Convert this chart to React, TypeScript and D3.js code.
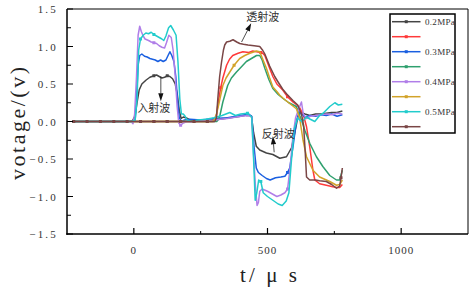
import React from "react";
import * as d3 from "d3";

const W = 472;
const H = 289;

const seriesNames = ["0.2MPa", "", "0.3MPa", "", "0.4MPa", "", "0.5MPa", ""];
const seriesColors = ["#444444", "#ff3a3a", "#1a5fe0", "#2fa06e", "#b07ee8", "#d2a32a", "#22cccc", "#7a4646"];

const base = [-225, -175, -125, -75, -25];

const s02: [number, number][] = [
  [-230, 0], ...base.map((x) => [x, 0] as [number, number]),
  [-5, 0.01], [5, 0.08], [12, 0.25], [20, 0.42], [30, 0.5], [45, 0.55], [60, 0.59], [75, 0.61], [85, 0.62],
  [95, 0.6], [105, 0.58], [115, 0.59], [125, 0.61], [135, 0.6], [145, 0.57], [155, 0.5], [163, 0.35],
  [170, 0.15], [177, 0.04], [185, 0.06], [195, 0.05], [210, 0.02], [240, 0.01], [280, 0.02], [320, 0.03],
  [360, 0.05], [400, 0.07], [425, 0.09], [440, 0.07], [448, -0.15], [458, -0.33], [471, -0.38], [496, -0.42],
  [520, -0.44], [546, -0.49], [571, -0.47], [590, -0.35], [602, -0.15], [614, 0.07], [625, 0.12], [640, 0.1],
  [658, 0.08], [680, 0.1], [700, 0.1], [720, 0.11], [740, 0.12], [760, 0.12], [780, 0.14],
];

const t02: [number, number][] = [
  [-230, 0], ...base.map((x) => [x, 0] as [number, number]),
  [25, 0], [75, 0], [125, 0], [175, 0], [225, 0], [275, 0], [300, 0],
  [307, 0.02], [314, 0.22], [325, 0.45], [333, 0.58], [347, 0.75], [358, 0.83], [370, 0.88], [390, 0.91],
  [408, 0.93], [430, 0.92], [445, 0.94], [459, 0.93], [475, 0.92], [482, 0.91], [490, 0.88], [508, 0.71],
  [520, 0.6], [535, 0.5], [557, 0.42], [575, 0.33], [595, 0.26], [610, 0.22], [621, 0.18], [635, 0.08],
  [646, -0.07], [658, -0.34], [670, -0.65], [677, -0.78], [695, -0.83], [720, -0.85], [744, -0.87],
  [760, -0.88], [770, -0.88], [780, -0.84],
];

const s03: [number, number][] = [
  [-230, 0], ...base.map((x) => [x, 0] as [number, number]),
  [-5, 0], [5, 0.02], [10, 0.3], [16, 0.75], [22, 0.88], [30, 0.9], [40, 0.87], [50, 0.86], [60, 0.84],
  [70, 0.83], [80, 0.82], [90, 0.8], [100, 0.82], [110, 0.8], [120, 0.82], [128, 0.88], [135, 0.93],
  [142, 0.88], [150, 0.8], [157, 0.6], [163, 0.3], [170, 0.05], [178, 0.0], [190, 0.02], [210, 0.03],
  [250, 0.02], [300, 0.04], [350, 0.05], [400, 0.08], [430, 0.1], [441, 0.07], [450, -0.35], [458, -0.62],
  [466, -0.68], [480, -0.72], [496, -0.76], [510, -0.78], [530, -0.75], [550, -0.74], [565, -0.73],
  [575, -0.68], [583, -0.62], [595, -0.35], [608, 0.0], [618, 0.12], [628, 0.1], [640, 0.06], [660, 0.08],
  [680, 0.07], [700, 0.09], [720, 0.08], [740, 0.1], [760, 0.07], [780, 0.09],
];

const t03: [number, number][] = [
  [-230, 0], ...base.map((x) => [x, 0] as [number, number]),
  [25, 0], [75, 0], [125, 0], [175, 0], [225, 0], [275, 0], [310, 0],
  [315, 0.02], [322, 0.08], [333, 0.26], [351, 0.48], [365, 0.58], [384, 0.66], [400, 0.72], [421, 0.8],
  [440, 0.84], [459, 0.88], [471, 0.88], [480, 0.82], [490, 0.71], [505, 0.56], [520, 0.44], [540, 0.36],
  [557, 0.31], [580, 0.25], [608, 0.2], [618, 0.1], [627, 0.02], [640, -0.12], [658, -0.29], [683, -0.47],
  [707, -0.6], [733, -0.72], [758, -0.78], [770, -0.78], [780, -0.65],
];

const s04: [number, number][] = [
  [-230, 0], ...base.map((x) => [x, 0] as [number, number]),
  [-10, 0], [-3, -0.03], [3, 0.1], [10, 0.6], [16, 1.15], [22, 1.27], [28, 1.2], [35, 1.14], [42, 1.1],
  [55, 1.08], [65, 1.06], [75, 1.05], [85, 1.04], [95, 1.01], [105, 0.99], [115, 0.98], [122, 1.05],
  [131, 1.15], [140, 1.12], [147, 0.95], [155, 0.6], [162, 0.2], [168, -0.02], [175, -0.05], [185, -0.02],
  [200, 0.0], [220, -0.01], [250, 0.01], [300, 0.02], [350, 0.04], [400, 0.07], [430, 0.08], [441, 0.06],
  [448, -0.45], [455, -0.87], [461, -1.12], [466, -1.08], [471, -0.93], [480, -0.9], [500, -0.93],
  [520, -0.97], [535, -1.0], [550, -0.98], [565, -0.95], [575, -0.9], [585, -0.6], [595, -0.2], [605, 0.05],
  [615, 0.15], [627, 0.26], [634, 0.1], [646, 0.04], [660, 0.07], [680, 0.08], [700, 0.09], [720, 0.1],
  [740, 0.09], [760, 0.11], [780, 0.1],
];

const t04: [number, number][] = [
  [-230, 0], ...base.map((x) => [x, 0] as [number, number]),
  [25, 0], [75, 0], [125, 0], [175, 0], [225, 0], [275, 0], [295, 0],
  [302, 0.03], [309, 0.1], [316, 0.2], [322, 0.3], [333, 0.48], [345, 0.58], [359, 0.66], [375, 0.75],
  [396, 0.84], [415, 0.88], [434, 0.91], [459, 0.94], [471, 0.93], [480, 0.85], [496, 0.71], [508, 0.58],
  [520, 0.46], [535, 0.4], [546, 0.35], [565, 0.29], [583, 0.24], [608, 0.17], [620, 0.05], [633, -0.25],
  [646, -0.47], [670, -0.65], [695, -0.74], [733, -0.8], [758, -0.85], [770, -0.84], [780, -0.78],
];

const s05: [number, number][] = [
  [-230, 0], ...base.map((x) => [x, 0] as [number, number]),
  [-5, 0], [5, 0.02], [12, 0.3], [18, 0.95], [25, 1.1], [35, 1.15], [45, 1.18], [55, 1.17], [65, 1.19],
  [75, 1.16], [85, 1.14], [95, 1.12], [105, 1.1], [112, 1.08], [120, 1.14], [130, 1.25], [138, 1.28],
  [148, 1.22], [158, 1.15], [165, 0.8], [172, 0.3], [178, 0.1], [185, 0.1], [192, 0.07], [200, 0.02],
  [215, 0.0], [240, 0.02], [270, 0.03], [300, 0.05], [330, 0.08], [359, 0.12], [380, 0.08], [400, 0.1],
  [425, 0.11], [441, 0.06], [448, -0.5], [454, -1.05], [460, -0.95], [467, -0.78], [475, -0.8], [484, -0.95],
  [500, -1.0], [520, -1.05], [540, -1.1], [555, -1.12], [570, -1.06], [580, -0.95], [590, -0.5], [600, -0.1],
  [613, 0.05], [620, 0.02], [630, 0.0], [646, 0.06], [660, 0.03], [677, 0.0], [695, 0.08], [708, 0.11],
  [733, 0.2], [752, 0.25], [765, 0.22], [780, 0.23],
];

const t05: [number, number][] = [
  [-230, 0], ...base.map((x) => [x, 0] as [number, number]),
  [25, 0], [75, 0], [125, 0], [175, 0], [225, 0], [275, 0], [303, 0],
  [309, 0.05], [314, 0.3], [321, 0.6], [328, 0.79], [335, 0.95], [340, 1.02], [347, 1.06], [359, 1.07],
  [371, 1.09], [385, 1.06], [396, 1.04], [410, 1.03], [427, 1.02], [450, 1.01], [471, 1.0], [482, 0.95],
  [490, 0.9], [508, 0.74], [527, 0.6], [539, 0.53], [557, 0.43], [571, 0.37], [595, 0.28], [613, 0.22],
  [627, 0.1], [635, -0.05], [641, -0.4], [646, -0.74], [658, -0.78], [680, -0.78], [695, -0.79], [720, -0.8],
  [740, -0.84], [758, -0.89], [770, -0.86], [775, -0.75], [780, -0.62],
];

const seriesData = [s02, t02, s03, t03, s04, t04, s05, t05];

const yTicks = [-1.5, -1.0, -0.5, 0, 0.5, 1.0, 1.5];
const yMinor = [-1.25, -0.75, -0.25, 0.25, 0.75, 1.25];
const xTicks = [0, 500, 1000];
const xMinor = [250, 750];

const annotations = [
  { text: "入射波", tx: 75, ty: 0.125, ax1: 101, ay1: 0.6, ax2: 101, ay2: 0.27 },
  { text: "透射波", tx: 482, ty: 1.337, ax1: 403, ay1: 1.06, ax2: 439, ay2: 1.31 },
  { text: "反射波", tx: 540, ty: -0.223, ax1: 525, ay1: -0.41, ax2: 520, ay2: -0.196 },
];

const xLabel = "t/ μ s";
const yLabel = "votage/(v)";

const SERIF = "Liberation Serif, DejaVu Serif, serif";
const CJK = "Noto Sans CJK SC, sans-serif";

function Arrow({ x1, y1, x2, y2 }: { x1: number; y1: number; x2: number; y2: number }) {
  const ang = Math.atan2(y2 - y1, x2 - x1);
  const L = 8;
  const Wd = 2.6;
  const bx = x2 - L * Math.cos(ang);
  const by = y2 - L * Math.sin(ang);
  const px = -Math.sin(ang) * Wd;
  const py = Math.cos(ang) * Wd;
  return (
    <g>
      <line x1={x1} y1={y1} x2={bx} y2={by} stroke="#222" strokeWidth={0.8} />
      <polygon points={`${x2},${y2} ${bx + px},${by + py} ${bx - px},${by - py}`} fill="#111" />
    </g>
  );
}

export default function App() {
  const left = 67, right = 468, top = 9, bottom = 234;
  const x = d3.scaleLinear().domain([-250, 1250]).range([left, right]);
  const y = d3.scaleLinear().domain([-1.5, 1.5]).range([bottom, top]);
  const line = d3
    .line<[number, number]>()
    .x((d) => x(d[0]))
    .y((d) => y(d[1]))
    .curve(d3.curveLinear);
  const fmt = (v: number) => d3.format(".1f")(v).replace("-", "−");

  return (
    <svg width={W} height={H} style={{ position: "absolute", left: 0, top: 0, background: "#fff" }}>
      <defs>
        <clipPath id="plotclip">
          <rect x={left} y={top} width={right - left} height={bottom - top} />
        </clipPath>
        <clipPath id="legclip">
          <rect x={390} y={14} width={65} height={119} />
        </clipPath>
      </defs>
      <rect x={0} y={0} width={W} height={H} fill="#fff" />

      <g clipPath="url(#plotclip)">
        {seriesData.map((d, i) => (
          <g key={i}>
            <path d={line(d) || ""} fill="none" stroke={seriesColors[i]} strokeWidth={1.5} strokeLinejoin="round" />
            {d
              .filter((p) => (p[0] + 25) % 50 === 0)
              .map((p, j) => (
                <rect key={j} x={x(p[0]) - 1.5} y={y(p[1]) - 1.5} width={3} height={3} fill={seriesColors[i]} />
              ))}
          </g>
        ))}
      </g>

      <line x1={left} y1={top} x2={right} y2={top} stroke="#000" strokeWidth={1} />
      <line x1={right} y1={top} x2={right} y2={bottom} stroke="#000" strokeWidth={1} />
      <line x1={left} y1={top} x2={left} y2={bottom + 0.75} stroke="#000" strokeWidth={1.5} />
      <line x1={left - 0.75} y1={bottom} x2={right} y2={bottom} stroke="#000" strokeWidth={1.5} />

      {yTicks.map((t) => (
        <g key={"y" + t}>
          <line x1={left} x2={left + 6} y1={y(t)} y2={y(t)} stroke="#000" strokeWidth={1} />
          <text
            x={58}
            y={y(t) + 4}
            textAnchor="end"
            style={{ fontFamily: SERIF, fontSize: 11, letterSpacing: 2.2 }}
            fill="#333"
          >
            {fmt(t)}
          </text>
        </g>
      ))}
      {yMinor.map((t) => (
        <line key={"ym" + t} x1={left} x2={left + 4} y1={y(t)} y2={y(t)} stroke="#000" strokeWidth={1} />
      ))}

      {xTicks.map((t) => (
        <g key={"x" + t}>
          <line x1={x(t)} x2={x(t)} y1={bottom} y2={bottom - 6} stroke="#000" strokeWidth={1.2} />
          <text
            x={x(t)}
            y={254}
            textAnchor="middle"
            style={{ fontFamily: SERIF, fontSize: 11, letterSpacing: 1 }}
            fill="#333"
          >
            {t}
          </text>
        </g>
      ))}
      {xMinor.map((t) => (
        <line key={"xm" + t} x1={x(t)} x2={x(t)} y1={bottom} y2={bottom - 3} stroke="#000" strokeWidth={1} />
      ))}

      <text
        transform={`translate(25, 123.5) rotate(-90)`}
        textAnchor="middle"
        style={{ fontFamily: SERIF, fontSize: 22 }}
        textLength={113}
        lengthAdjust="spacing"
        fill="#222"
      >
        {yLabel}
      </text>
      <text
        x={240}
        y={282}
        style={{ fontFamily: SERIF, fontSize: 21 }}
        textLength={57}
        lengthAdjust="spacing"
        fill="#222"
      >
        {xLabel}
      </text>

      {annotations.map((a, i) => (
        <g key={"a" + i}>
          <Arrow x1={x(a.ax1)} y1={y(a.ay1)} x2={x(a.ax2)} y2={y(a.ay2)} />
          <text x={x(a.tx)} y={y(a.ty)} textAnchor="middle" style={{ fontFamily: CJK, fontSize: 11 }} fill="#333">
            {a.text}
          </text>
        </g>
      ))}

      <rect x={390} y={14} width={65} height={119} fill="#fff" stroke="#000" strokeWidth={1.5} />
      <g clipPath="url(#legclip)">
        {seriesNames.map((n, i) => {
          const ly = 21.7 + i * 15;
          return (
            <g key={"l" + i}>
              <line x1={392} x2={420.5} y1={ly} y2={ly} stroke={seriesColors[i]} strokeWidth={1.5} />
              <rect x={406.25 - 1.5} y={ly - 1.5} width={3} height={3} fill={seriesColors[i]} />
              {n && (
                <text x={425} y={ly + 3} style={{ fontFamily: SERIF, fontSize: 9, letterSpacing: 0.3 }} fill="#333">
                  {n}
                </text>
              )}
            </g>
          );
        })}
      </g>
    </svg>
  );
}
